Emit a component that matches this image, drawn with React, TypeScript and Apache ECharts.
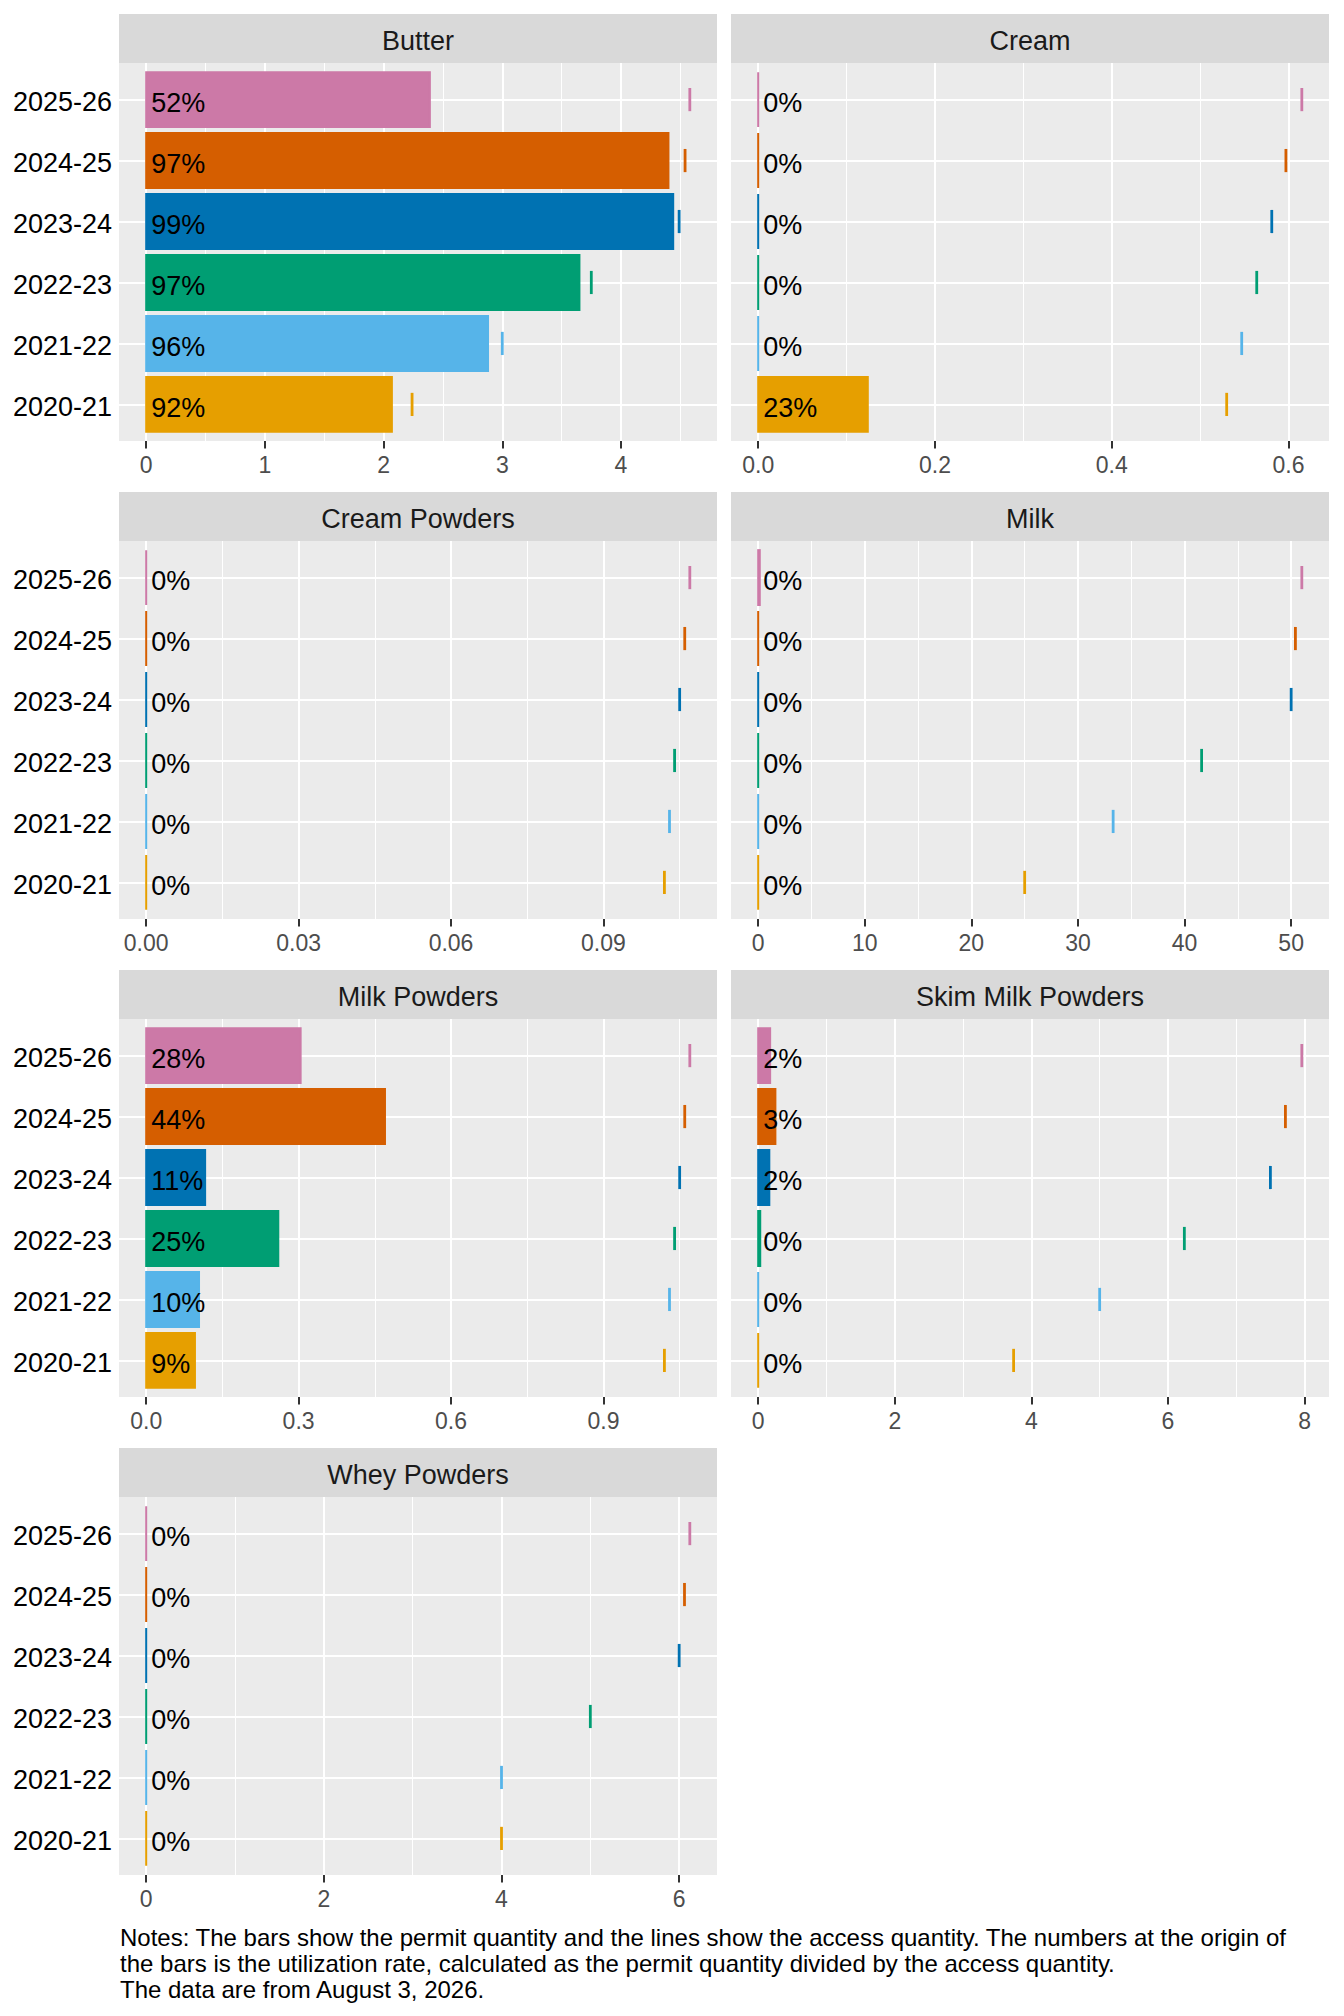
import { useEffect, useRef } from "react";
import * as echarts from "echarts";

const FONT = "'Liberation Sans', Arial, Helvetica, sans-serif";

// marketing years, bottom to top
const years = ["2020-21", "2021-22", "2022-23", "2023-24", "2024-25", "2025-26"];
const yearColors = ["#E69F00", "#56B4E9", "#009E73", "#0072B2", "#D55E00", "#CC79A7"];

// permit quantity (bars) and access quantity (lines), same year order
const butterPermit = [2.07, 2.88, 3.65, 4.44, 4.4, 2.39];
const butterAccess = [2.24, 3.0, 3.75, 4.49, 4.54, 4.58];
const creamPermit = [0.124, 0, 0, 0, 0, 0];
const creamAccess = [0.53, 0.547, 0.564, 0.581, 0.597, 0.615];
const creamPowdersPermit = [0, 0, 0, 0, 0, 0];
const creamPowdersAccess = [0.102, 0.103, 0.104, 0.105, 0.106, 0.107];
const milkPermit = [0, 0, 0, 0, 0, 0.15];
const milkAccess = [25, 33.3, 41.6, 50, 50.4, 51];
const milkPowdersPermit = [0.096, 0.104, 0.26, 0.116, 0.47, 0.304];
const milkPowdersAccess = [1.02, 1.03, 1.04, 1.05, 1.06, 1.07];
const skimPermit = [0, 0, 0.03, 0.163, 0.252, 0.175];
const skimAccess = [3.74, 5.0, 6.24, 7.5, 7.72, 7.96];
const wheyPermit = [0, 0, 0, 0, 0, 0];
const wheyAccess = [4, 4, 5, 6, 6.06, 6.12];

// x breaks of each facet
const butterTicks = [0, 1, 2, 3, 4];
const creamTicks = [0, 0.2, 0.4, 0.6];
const creamPowdersTicks = [0, 0.03, 0.06, 0.09];
const milkTicks = [0, 10, 20, 30, 40, 50];
const milkPowdersTicks = [0, 0.3, 0.6, 0.9];
const skimTicks = [0, 2, 4, 6, 8];
const wheyTicks = [0, 2, 4, 6];

const panels = [
  { name: "Butter", permit: butterPermit, access: butterAccess, ticks: butterTicks, dec: 0 },
  { name: "Cream", permit: creamPermit, access: creamAccess, ticks: creamTicks, dec: 1 },
  { name: "Cream Powders", permit: creamPowdersPermit, access: creamPowdersAccess, ticks: creamPowdersTicks, dec: 2 },
  { name: "Milk", permit: milkPermit, access: milkAccess, ticks: milkTicks, dec: 0 },
  { name: "Milk Powders", permit: milkPowdersPermit, access: milkPowdersAccess, ticks: milkPowdersTicks, dec: 1 },
  { name: "Skim Milk Powders", permit: skimPermit, access: skimAccess, ticks: skimTicks, dec: 0 },
  { name: "Whey Powders", permit: wheyPermit, access: wheyAccess, ticks: wheyTicks, dec: 0 },
];

const notes = [
  "Notes: The bars show the permit quantity and the lines show the access quantity. The numbers at the origin of",
  "the bars is the utilization rate, calculated as the permit quantity divided by the access quantity.",
  "The data are from August 3, 2026.",
].join("\n");

const COLS = [{ left: 119, width: 598 }, { left: 731, width: 598 }];
const PLOT_TOP = 63;
const ROW_STEP = 478;
const PLOT_H = 378;
const STRIP_H = 49;
// small downward nudge of the year labels, in category units
const LABEL_NUDGE = 0.042;

function buildOption(): echarts.EChartsCoreOption {
  const grid: any[] = [];
  const xAxis: any[] = [];
  const yAxis: any[] = [];
  const series: any[] = [];
  const graphic: any[] = [];
  const yPos = years.map((_, k) => k + 1);

  panels.forEach((p, i) => {
    const col = i % 2;
    const row = Math.floor(i / 2);
    const top = PLOT_TOP + row * ROW_STEP;
    const m = Math.max(...p.access, ...p.permit);
    const min = -0.05 * m;
    const max = 1.05 * m;
    const step = p.ticks[1] - p.ticks[0];
    const minors = Array.from(
      new Set(p.ticks.flatMap((t) => [t - step / 2, t + step / 2]).map((v) => Math.round(v * 1e6) / 1e6))
    ).filter((v) => v >= min && v <= max);

    grid.push({
      left: COLS[col].left, top, width: COLS[col].width, height: PLOT_H,
      show: true, backgroundColor: "#EBEBEB", borderWidth: 0,
      containLabel: false, outerBoundsMode: "none",
    });

    xAxis.push({
      type: "value", gridIndex: i, min, max, position: "bottom",
      axisLine: { show: false, onZero: false },
      axisTick: { show: true, customValues: p.ticks, length: 7.5, lineStyle: { color: "#333333", width: 2 } },
      axisLabel: {
        customValues: p.ticks,
        formatter: (v: number) => Number(v).toFixed(p.dec),
        margin: 12, color: "#4D4D4D", fontSize: 23, fontFamily: FONT,
      },
      splitLine: { show: true, lineStyle: { color: "#FFFFFF", width: 2 } },
    });
    xAxis.push({
      type: "value", gridIndex: i, min, max, position: "top",
      axisLine: { show: false, onZero: false },
      axisTick: { show: false, customValues: minors },
      axisLabel: { show: false },
      splitLine: { show: true, lineStyle: { color: "#FFFFFF", width: 1 } },
    });

    yAxis.push({
      type: "value", gridIndex: i, min: 0.4, max: 6.6,
      axisLine: { show: false },
      axisTick: { show: false, customValues: yPos },
      axisLabel: {
        show: col === 0,
        customValues: yPos.map((v) => v - LABEL_NUDGE),
        formatter: (v: number) => years[Math.round(v) - 1],
        margin: 7, color: "#000000", fontSize: 27, fontFamily: FONT,
      },
      splitLine: { show: true, lineStyle: { color: "#FFFFFF", width: 2 } },
    });

    series.push({
      type: "custom",
      name: p.name,
      xAxisIndex: 2 * i,
      yAxisIndex: i,
      z: 3,
      data: p.permit.map((v, k) => [v, k + 1, p.access[k], k]),
      renderItem: (_params: any, api: any) => {
        const permit = api.value(0);
        const pos = api.value(1);
        const access = api.value(2);
        const k = api.value(3);
        const color = yearColors[k];
        const base = api.coord([0, pos]);
        const end = api.coord([permit, pos]);
        const acc = api.coord([access, pos]);
        const barH = api.size([0, 0.9])[1];
        const tickH = api.size([0, 0.38])[1];
        const rate = Math.round((permit / access) * 100) + "%";
        return {
          type: "group",
          children: [
            {
              type: "rect",
              shape: { x: base[0], y: base[1] - barH / 2, width: end[0] - base[0], height: barH },
              style: { fill: color, stroke: color, lineWidth: 2 },
            },
            {
              type: "line",
              shape: { x1: acc[0], y1: acc[1] - tickH / 2, x2: acc[0], y2: acc[1] + tickH / 2 },
              style: { stroke: color, lineWidth: 2.8 },
            },
            {
              type: "text",
              style: {
                text: rate, x: base[0] + 5, y: base[1] + 3.5,
                fill: "#000000", fontSize: 27, fontFamily: FONT,
                align: "left", verticalAlign: "middle",
              },
            },
          ],
        };
      },
    });

    // facet strip
    const stripTop = top - STRIP_H;
    graphic.push({
      type: "rect",
      shape: { x: COLS[col].left, y: stripTop, width: COLS[col].width, height: STRIP_H },
      style: { fill: "#D9D9D9" },
      silent: true,
    });
    graphic.push({
      type: "text",
      x: COLS[col].left + COLS[col].width / 2,
      y: stripTop + 26.5,
      style: {
        text: p.name, align: "center", verticalAlign: "middle",
        fontSize: 27, fill: "#1A1A1A", fontFamily: FONT,
      },
      silent: true,
    });
  });

  graphic.push({
    type: "text",
    x: 120,
    y: 1963,
    style: {
      text: notes, align: "left", verticalAlign: "middle",
      fontSize: 24, lineHeight: 26, fill: "#000000", fontFamily: FONT,
    },
    silent: true,
  });

  return {
    animation: false,
    backgroundColor: "#FFFFFF",
    textStyle: { fontFamily: FONT },
    grid, xAxis, yAxis, series, graphic,
  };
}

export default function App() {
  const ref = useRef<HTMLDivElement | null>(null);

  useEffect(() => {
    const el = ref.current!;
    const chart = echarts.init(el, null, { renderer: "svg" });
    chart.setOption(buildOption());
    return () => { chart.dispose(); };
  }, []);

  return <div ref={ref} style={{ position: "absolute", left: 0, top: 0, width: 1344, height: 2016 }} />;
}
